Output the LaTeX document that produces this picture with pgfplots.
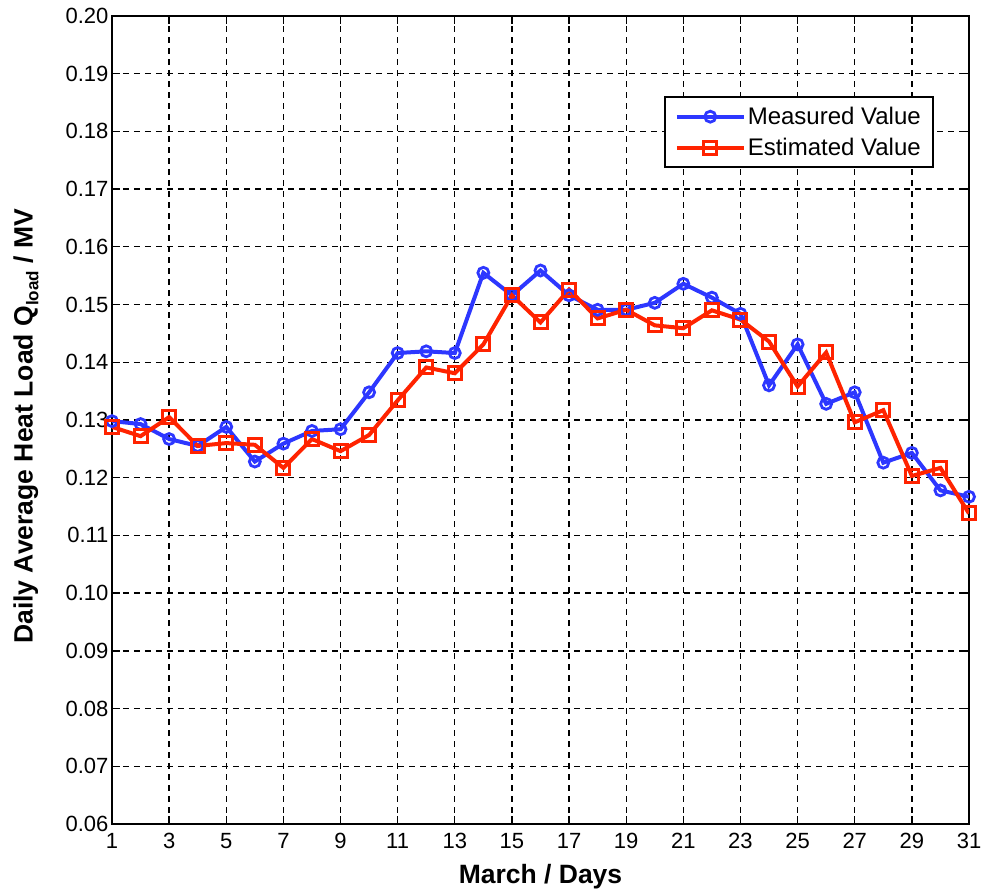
\documentclass[border=0pt]{standalone}
\usepackage{pgfplots}
\pgfplotsset{compat=1.18}
\usetikzlibrary{calc}
\usepackage{fontspec}
\setmainfont{Liberation Sans}
\definecolor{mblue}{RGB}{45,55,255}
\definecolor{mred}{RGB}{255,35,0}
\begin{document}
\begin{tikzpicture}
\begin{axis}[
  scale only axis,
  width=857pt, height=808pt,
  xmin=1, xmax=31, ymin=0.06, ymax=0.20,
  xtick={1,3,...,31},
  ytick={0.06,0.07,...,0.201},
  /pgf/number format/assume math mode=true,
  yticklabel style={/pgf/number format/fixed,/pgf/number format/fixed zerofill,/pgf/number format/precision=2},
  xticklabel style={yshift=-6pt},
  scaled y ticks=false,
  tick label style={font=\fontsize{22}{24}\selectfont},
  tick align=inside,
  major tick length=8pt,
  tick style={black, line width=1.3pt},
  axis line style={black, line width=2.5pt},
  grid=major,
  grid style={black, line width=1.3pt, dash pattern=on 6pt off 5pt},
  xlabel={\bfseries March / Days},
  ylabel={\bfseries Daily Average Heat Load Q\raisebox{-0.4ex}{\fontsize{17}{17}\selectfont\bfseries load} / MV},
  label style={font=\fontsize{26.5}{28}\selectfont},
  xlabel style={at={(axis description cs:0.5,-0.065)}, anchor=center},
  ylabel style={at={(axis description cs:-0.1004,0.492)}, anchor=center},
  legend style={at={(0.9592,0.901)}, anchor=north east, draw=black, line width=2.5pt,
    font=\fontsize{24}{26}\selectfont, inner xsep=10pt, inner ysep=8pt, row sep=8pt},
  legend cell align=left,
  legend image code/.code={\draw[#1] (0pt,0pt) -- (67pt,0pt); \draw[#1, only marks] plot coordinates {(33.5pt,0pt)};},
]
\addplot[mblue, line width=4pt, mark=o, mark size=5.5pt, mark options={line width=2.8pt}] coordinates {
(1,0.1298)(2,0.1293)(3,0.1267)(4,0.1255)(5,0.1288)(6,0.1228)(7,0.1259)(8,0.1281)(9,0.1284)(10,0.1348)
(11,0.1416)(12,0.1419)(13,0.1416)(14,0.1555)(15,0.1516)(16,0.1559)(17,0.1516)(18,0.1491)(19,0.1491)(20,0.1503)
(21,0.1536)(22,0.1512)(23,0.1484)(24,0.1360)(25,0.1431)(26,0.1328)(27,0.1348)(28,0.1226)(29,0.1243)(30,0.1178)(31,0.1167)};
\addlegendentry{Measured Value}
\addplot[mred, line width=4pt, mark=square, mark size=6.5pt, mark options={line width=3pt}] coordinates {
(1,0.1288)(2,0.1272)(3,0.1305)(4,0.1255)(5,0.1260)(6,0.1257)(7,0.1217)(8,0.1267)(9,0.1246)(10,0.1274)
(11,0.1334)(12,0.1391)(13,0.1381)(14,0.1431)(15,0.1516)(16,0.1469)(17,0.1526)(18,0.1476)(19,0.1491)(20,0.1464)
(21,0.1459)(22,0.1490)(23,0.1474)(24,0.1436)(25,0.1358)(26,0.1417)(27,0.1296)(28,0.1317)(29,0.1203)(30,0.1217)(31,0.1138)};
\addlegendentry{Estimated Value}
\end{axis}
\pgfresetboundingbox
\path[use as bounding box] ($(current axis.south west)+(-112pt,-72pt)$) rectangle ($(current axis.north east)+(13pt,16pt)$);
\end{tikzpicture}
\end{document}
